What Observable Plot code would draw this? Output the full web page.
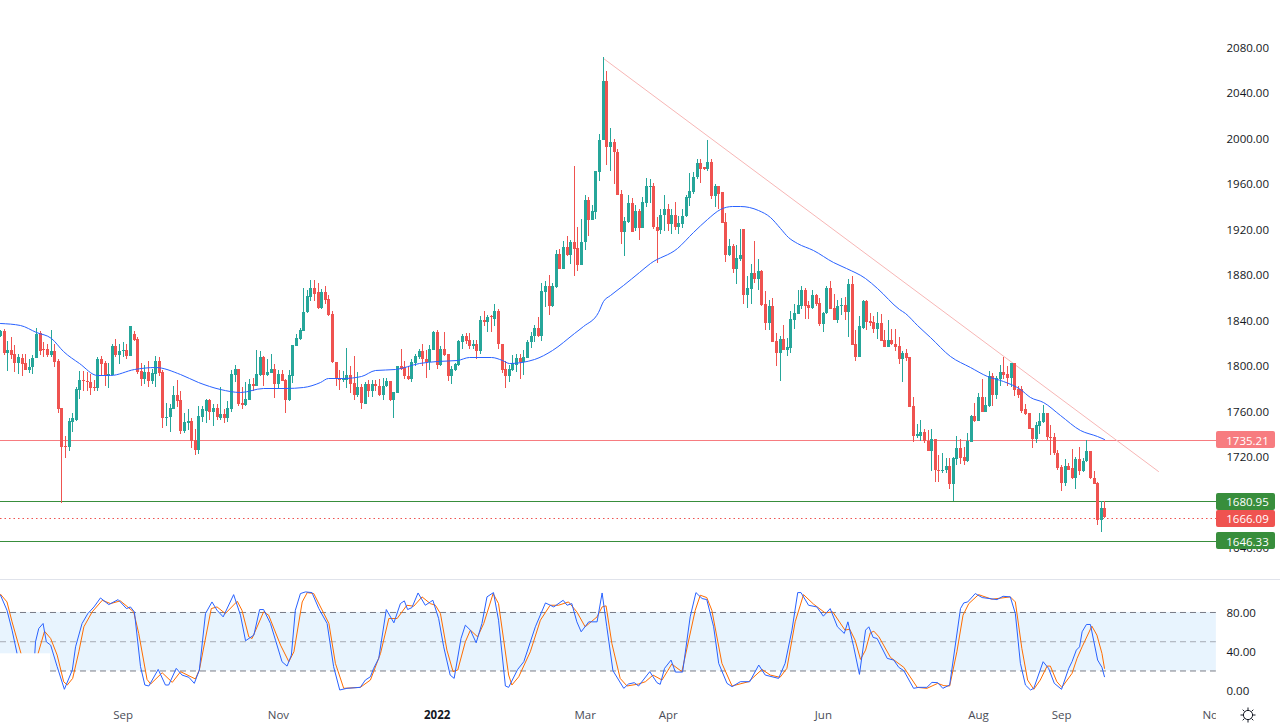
<!DOCTYPE html>
<html><head><meta charset="utf-8">
<script src="https://cdn.jsdelivr.net/npm/d3@7"></script>
<script src="https://cdn.jsdelivr.net/npm/@observablehq/plot@0.6"></script>
<style>
html,body{margin:0;padding:0;background:#fff;overflow:hidden}
#wrap{position:relative;width:1280px;height:728px;font-family:"Open Sans",sans-serif}
#top,#bot,#gear{position:absolute;left:0}
#top{top:0}#bot{top:580px}
#sep{position:absolute;left:0;top:579px;width:1280px;height:1px;background:#e0e3eb}
#gear{left:1240px;top:707px}
svg{display:block}
</style></head><body>
<div id="wrap"><div id="top"></div><div id="sep"></div><div id="bot"></div>
<svg id="gear" width="16" height="16" viewBox="0 0 16 16"><circle cx="8" cy="8" r="4.6" fill="none" stroke="#131722"/><path d="M8 .5V3M8 13v2.5M.5 8H3M13 8h2.5M2.7 2.7l1.8 1.8M11.5 11.5l1.8 1.8M2.7 13.3l1.8-1.8M11.5 4.5l1.8-1.8" stroke="#131722" fill="none"/></svg>
</div>
<script>
const opens=[1826,1830,1811,1813,1810,1802,1806,1802,1796,1798,
1806,1828,1814,1814,1809,1812,1804,1762,1729,1728,
1750,1752,1778,1787,1786,1785,1781,1780,1805,1802,
1790,1791,1817,1809,1812,1813,1808,1827,1823,1795,
1788,1794,1786,1792,1804,1794,1753,1754,1761,1774,
1769,1742,1749,1751,1734,1725,1754,1760,1769,1759,
1762,1753,1757,1753,1761,1791,1797,1767,1765,1769,
1783,1782,1791,1807,1791,1793,1797,1783,1792,1787,
1769,1790,1817,1823,1830,1847,1860,1868,1864,1850,
1864,1858,1845,1803,1789,1787,1787,1791,1784,1774,
1781,1766,1783,1777,1783,1782,1774,1782,1786,1769,
1775,1799,1798,1790,1788,1802,1807,1812,1805,1803,
1813,1829,1800,1814,1810,1790,1796,1800,1820,1826,
1822,1817,1819,1812,1840,1838,1843,1841,1848,1819,
1797,1790,1796,1800,1806,1803,1806,1820,1826,1833,
1826,1864,1870,1852,1869,1898,1885,1904,1897,1908,
1903,1888,1908,1945,1928,1935,1970,1998,2050,1992,
1996,1988,1951,1917,1926,1943,1921,1936,1921,1943,
1957,1958,1922,1919,1932,1937,1924,1932,1922,1924,
1931,1947,1952,1966,1978,1974,1973,1979,1949,1958,
1952,1926,1897,1905,1885,1893,1920,1862,1867,1881,
1876,1883,1854,1837,1852,1821,1811,1823,1813,1815,
1840,1845,1852,1866,1853,1850,1862,1855,1836,1846,
1868,1850,1840,1852,1853,1847,1871,1819,1807,1833,
1856,1839,1838,1832,1837,1822,1816,1822,1819,1817,
1805,1811,1807,1764,1738,1738,1741,1733,1724,1735,
1708,1707,1708,1711,1695,1717,1727,1719,1716,1732,
1755,1751,1772,1759,1764,1790,1774,1788,1794,1792,
1789,1802,1779,1779,1761,1758,1745,1735,1746,1750,
1758,1737,1737,1723,1710,1696,1711,1709,1701,1717,
1707,1716,1724,1701,1696,1664,1674];
const highs=[1831,1832,1821,1825,1818,1810,1810,1810,1805,1809,
1833,1830,1820,1819,1831,1819,1805,1762,1738,1753,
1758,1781,1795,1795,1794,1792,1787,1807,1808,1804,
1802,1819,1823,1819,1820,1819,1834,1830,1825,1802,
1800,1804,1797,1808,1807,1796,1767,1766,1782,1787,
1777,1758,1761,1753,1744,1764,1764,1770,1770,1766,
1766,1781,1761,1768,1796,1800,1797,1781,1785,1788,
1789,1813,1812,1808,1805,1810,1801,1796,1796,1788,
1796,1818,1827,1833,1868,1866,1875,1875,1872,1867,
1870,1862,1848,1803,1796,1795,1815,1799,1808,1794,
1783,1785,1787,1787,1787,1788,1789,1789,1786,1776,
1799,1814,1804,1799,1805,1810,1814,1819,1813,1818,
1830,1831,1817,1829,1810,1799,1802,1822,1827,1828,
1828,1822,1822,1843,1848,1844,1844,1854,1849,1819,
1804,1800,1809,1810,1810,1813,1822,1829,1835,1842,
1872,1874,1879,1872,1901,1902,1909,1914,1910,1975,
1922,1929,1950,1948,1941,1971,2003,2071,2059,2009,
1999,1990,1954,1930,1950,1947,1941,1937,1948,1965,
1964,1960,1930,1937,1950,1942,1937,1944,1931,1937,
1950,1969,1970,1981,1981,1974,1998,1981,1959,1958,
1952,1934,1911,1907,1906,1920,1920,1878,1889,1909,
1893,1884,1865,1857,1859,1828,1826,1835,1824,1848,
1854,1866,1870,1868,1856,1866,1863,1859,1847,1870,
1874,1863,1857,1859,1860,1876,1878,1831,1843,1857,
1857,1846,1843,1847,1845,1831,1840,1832,1832,1825,
1812,1814,1807,1772,1748,1752,1744,1743,1744,1735,
1721,1723,1718,1718,1719,1738,1735,1728,1740,1756,
1767,1775,1788,1772,1795,1793,1790,1800,1807,1799,
1802,1802,1782,1782,1766,1758,1745,1750,1758,1765,
1758,1747,1740,1725,1712,1717,1714,1726,1719,1728,
1718,1734,1724,1707,1697,1680,1680];
const lows=[1825,1809,1795,1805,1794,1792,1790,1796,1793,1792,
1806,1809,1807,1807,1807,1798,1758,1679,1718,1724,
1741,1751,1770,1777,1777,1774,1777,1777,1791,1782,
1780,1791,1807,1801,1807,1805,1808,1821,1792,1782,
1783,1781,1783,1781,1790,1745,1746,1741,1761,1763,
1739,1740,1743,1727,1721,1722,1750,1749,1752,1746,
1752,1752,1749,1750,1759,1785,1764,1761,1764,1769,
1777,1782,1790,1782,1790,1793,1771,1779,1786,1758,
1768,1784,1817,1822,1830,1846,1856,1856,1849,1849,
1854,1843,1802,1782,1778,1785,1780,1775,1769,1772,
1761,1766,1772,1772,1777,1773,1769,1781,1768,1753,
1775,1796,1788,1787,1785,1799,1805,1799,1789,1796,
1813,1797,1799,1808,1786,1783,1795,1799,1814,1819,
1814,1814,1805,1810,1834,1829,1829,1834,1814,1793,
1780,1785,1795,1794,1788,1791,1806,1815,1820,1825,
1821,1851,1844,1851,1868,1885,1885,1896,1889,1878,
1883,1888,1901,1914,1928,1929,1962,1998,1976,1971,
1959,1950,1907,1896,1925,1917,1918,1910,1921,1939,
1943,1920,1890,1915,1918,1918,1915,1919,1915,1921,
1930,1940,1951,1964,1960,1972,1971,1946,1939,1937,
1925,1891,1896,1881,1871,1892,1854,1850,1854,1872,
1866,1852,1831,1831,1820,1799,1786,1813,1808,1811,
1832,1845,1849,1841,1841,1849,1852,1834,1829,1845,
1849,1840,1837,1844,1840,1825,1818,1804,1807,1832,
1831,1834,1828,1823,1821,1816,1816,1818,1812,1801,
1785,1804,1763,1732,1736,1733,1731,1724,1707,1697,
1697,1705,1705,1691,1680,1712,1713,1712,1715,1732,
1750,1751,1759,1759,1763,1764,1770,1782,1788,1782,
1781,1773,1771,1758,1756,1744,1727,1731,1739,1749,
1734,1721,1721,1708,1689,1694,1708,1700,1691,1703,
1706,1715,1700,1695,1659,1653,1665];
const closes=[1830,1811,1813,1809,1802,1807,1801,1796,1798,1806,
1827,1812,1813,1809,1812,1803,1761,1728,1728,1751,
1753,1779,1787,1786,1785,1780,1780,1805,1801,1790,
1792,1817,1809,1812,1813,1808,1834,1822,1794,1788,
1794,1786,1793,1804,1793,1753,1754,1762,1774,1768,
1742,1750,1751,1733,1725,1755,1761,1769,1759,1762,
1754,1757,1753,1762,1792,1797,1766,1765,1770,1783,
1782,1792,1807,1791,1794,1797,1783,1792,1786,1769,
1791,1818,1824,1831,1847,1861,1868,1863,1850,1864,
1857,1844,1803,1788,1787,1788,1791,1783,1774,1781,
1767,1783,1777,1783,1782,1774,1782,1786,1769,1776,
1799,1797,1790,1788,1803,1808,1812,1805,1803,1814,
1829,1800,1814,1809,1790,1797,1801,1821,1826,1821,
1817,1819,1812,1840,1838,1842,1842,1848,1819,1796,
1790,1797,1802,1806,1803,1807,1820,1826,1833,1826,
1865,1870,1852,1870,1898,1885,1904,1897,1908,1902,
1888,1908,1945,1928,1936,1971,1998,2050,1992,1996,
1988,1950,1917,1927,1943,1917,1936,1921,1944,1958,
1958,1922,1918,1932,1937,1924,1932,1922,1925,1931,
1948,1953,1966,1978,1973,1973,1979,1949,1958,1951,
1925,1897,1905,1885,1894,1897,1862,1868,1881,1876,
1883,1853,1837,1852,1820,1811,1823,1813,1816,1841,
1846,1853,1866,1852,1850,1862,1854,1836,1846,1868,
1849,1840,1852,1853,1847,1871,1818,1807,1834,1856,
1838,1837,1832,1837,1821,1816,1822,1819,1816,1805,
1811,1806,1763,1738,1739,1741,1733,1724,1735,1708,
1707,1708,1711,1695,1718,1727,1718,1716,1733,1755,
1751,1772,1759,1765,1790,1774,1789,1794,1791,1789,
1802,1778,1774,1760,1757,1744,1735,1747,1751,1758,
1737,1736,1723,1709,1696,1711,1708,1701,1717,1707,
1716,1724,1701,1695,1664,1674,1666];

const maIdx=[0,5.5,10,14,17.5,22,27,30.5,37,43,50,55,61,66.5,73,79,84,88.6,91,95,100,104,109.5,116,121,126.5,130,136,139,141,148,153,159,161.6,165.8,167,169,172.7,177,180,187.5,192,195.8,199.5,202.7,205,210,213.3,216,218.4,220.7,225.3,230.9,234.5,239.7,243,249,250.8,254,257.7,263.2,268.8,273.4,278,282.6,285.4,289,293.7,299.3,303.9,306];
const maVal=[1837.4,1835.4,1829.5,1823.7,1812,1801.6,1791.4,1791.4,1797,1798,1792,1785,1779,1776.4,1780,1780,1781,1785.5,1789,1788.3,1790.7,1795.4,1796.5,1801.5,1803.9,1804.5,1807.4,1806.8,1804.5,1801.5,1805.3,1813,1828,1834,1847,1856,1862,1870.6,1882,1889.6,1902.8,1917.5,1929,1937.4,1940,1940,1936.6,1930.7,1920.4,1913,1907.8,1901.4,1891,1885.2,1877,1867.6,1849,1845.6,1835.3,1825,1808,1798.6,1790.4,1786,1778.7,1772,1767.8,1756,1742.9,1737.6,1735];

const kIdx=[0,1.8,3.2,4.6,6.9,9.5,9.7,10.6,11.8,12.7,13.9,15.7,17.7,19.9,20.8,22.6,24.2,25.9,27.7,30,32.6,34.9,36,37.1,38.8,40,41.1,43.7,45.7,46.6,48.7,50.3,52.2,53.7,55.1,56.8,58.6,60,61.7,64.6,66.5,67.9,70.2,71.8,72.9,74.8,76.2,78,79.4,80.6,81.7,83.1,84.5,86.3,88.2,90.5,92.3,94,96,99.7,101.1,102.5,103.4,104.8,106.9,109,110.8,111.9,112.8,114,115.7,117.7,119.1,119.8,121.4,122.8,124.6,125.7,127.6,128.8,130.2,131.8,133.4,134.8,136.6,138,139.9,140.8,143.3,145,148.2,151,153.3,155.9,157,158.3,159.7,160.9,163,165.3,166.7,168,169.7,172.7,174,175.6,176.8,179.9,181.9,182.8,184,185.8,187,189,191.1,192.7,194.4,195.7,197.6,199,201.3,202.7,205,207.6,210.1,211.9,215.6,217.4,219.3,220.9,221.8,223.9,226.2,228,229.9,231.9,233.8,234.8,236.4,238,239.7,240.6,241.8,242.9,245.7,247.5,248.9,250.3,253,254.4,256.7,258.1,259.7,261.1,263,266,266.9,268,270.1,272,276.1,277.8,279.8,281.2,282.6,284,285.4,286.3,288.9,290.4,292,294,296,296.9,298.1,299,299.7,300.9,302,304,305.2,305.9];
const kVal=[97.7,82.3,61.9,37.7,10.7,37.7,49.9,63.6,68.7,49.9,46.5,24.4,1.2,21,44.8,68.7,78.9,85.7,94.9,88.1,93.2,84,85.7,80.6,24.4,5.6,4.6,21.6,5.6,5.6,22.7,15.8,13.5,7.3,21,78.9,90.8,82.3,75.5,98.3,77.2,51,56.8,83,83,68.7,51.6,29.5,25,36.3,82.3,99.4,101.1,100.4,84,68.7,24.4,0.5,2.2,3.2,10.7,14.1,22.7,32.9,83,69.4,89.1,91.9,83,85,100,87.4,90.8,92.5,73.8,44.8,15.8,12.4,53.3,67,61.9,48.9,68.7,96,100.4,72.1,4.6,3.2,21.6,29.5,65.3,89.8,85.7,92.5,87.4,89.1,70.4,60.2,70.4,70.4,100,65.3,20.3,2.2,6.6,8,4.6,19.3,8,6.3,22.7,31.2,18.9,18.9,75.5,100.4,94.3,93.2,65.3,27.8,7.3,3.9,9,9,26.1,15.8,12.4,27.8,61.9,100.4,100.4,87.4,85.7,76.2,84,65.3,58.5,70.4,44.8,16.5,61.9,65.3,54.4,53.3,32.9,31.2,23.7,20.3,2.2,3.2,3.2,8.3,8,2.2,5.6,84,89.8,90.8,99.4,95.3,93.2,96.6,96,78.9,27.8,5.6,0.5,2.2,29.5,22.7,7.3,1.2,22.7,29.5,41.4,44.8,60.2,67.7,67.7,31.2,23.7,14.1];
const dIdx=[0,1.8,3.2,5.7,7.8,10.4,12.2,13.9,15.7,17.5,18.5,20,21.7,23.1,25.4,28.2,30.5,33.2,36.9,38.3,40.6,41.6,44.8,47.6,49.9,54,55.1,58.4,60,62.3,65.6,66.9,68.8,69.7,72.9,74.3,77.6,79.9,81.3,83.6,85,86.8,91,92.8,95.1,99.7,102.5,105.3,107.6,109.9,112.6,114.5,116.8,119.1,120.5,121.9,123.7,125.4,126.7,128.8,130.2,132.2,133.9,136.5,138,140.8,141.7,143.6,146.8,149.6,152.3,154.6,157.4,159.7,162,165.3,166.7,167.8,169.4,171.7,173.6,176.8,178.7,180.8,183.3,186,188.8,192.5,193.9,195.7,197.1,199.9,202.7,207.3,211,213.3,216,217.9,220.2,222.5,225.3,228.5,230.6,234,235.3,236.8,238.3,239.7,241,242,243.4,246.6,250.3,254,256.7,259.7,261.4,263,265,266.7,268.3,271,274.7,279.8,281.2,283,284.6,286.3,288.1,290,290.9,292.7,294.1,296.9,298.3,299.7,302.4,303.8,305.2,305.9];
const dVal=[98.7,90.8,70.4,37.7,7.3,37.7,60.8,53.3,36.3,9,5.6,12.4,39.7,65.3,80.6,92.5,89.1,91.9,80.6,58.5,11.4,6.6,18.2,8.3,19.3,11.8,21,84,85.7,78.9,91.5,82.3,55,53.3,80.6,77.2,46.5,29.5,39.7,90.8,100.4,99.4,68.7,27.8,2.2,3.2,10.7,38,73.8,73.8,87.4,86.4,96,89.1,87.4,78.9,41.4,19.3,21,49.9,61.9,55,68.7,99.4,89.1,15.8,5.6,14.1,39.7,72.1,87.4,87.4,90.8,80.6,65.3,75.5,85.7,86.8,48.2,12.4,4.6,6.6,9,15.8,10.7,27.1,19.3,82.3,97.7,95.3,82.3,27.8,4.6,9,21.6,15.8,13.5,22.7,70.4,98.3,88.5,79.6,80.6,61.9,62.9,51.6,31.9,41.4,59.1,60.8,55,33.9,23.7,3.2,2.2,7.3,4.9,4.6,39.7,77.2,89.1,98.3,93.6,96,90.8,43.1,10.7,1.2,10.7,25,25,9,3.2,17.5,32.9,44.8,66,56.8,38,22.7];

const priceTicks=[1640,1680,1720,1760,1800,1840,1880,1920,1960,2000,2040,2080];
const stochTicks=[0,40,80];
const stochLevels=[80,50,20];
const timeIdx=[34,77,121,162,185,228,271,294,336];
const timeLabels=["Sep","Nov","2022","Mar","Apr","Jun","Aug","Sep","Nov"];
const levelVals=[1735.21,1680.95,1666.09,1646.33];
const levelText=["1735.21","1680.95","1666.09","1646.33"];
const levelColor=["#f77c80","#388e3c","#ef5350","#388e3c"];
const trendIdx=[167,320.9];
const trendVal=[2071.5,1708];

const FONT='"Open Sans",sans-serif';
const AXIS_SIZE=11.5;
const readOffset=0.9, paneEnd=336.9, labelEnd=353.3, xMax=354.67;
const bars=opens.map((o,i)=>({i,o:o+readOffset,h:highs[i]+readOffset,l:lows[i]+readOffset,c:closes[i]+readOffset}));
const up=bars.filter(d=>d.c>=d.o), down=bars.filter(d=>d.c<d.o);
const ma=maIdx.map((x,k)=>({x,y:maVal[k]+readOffset}));
const trend=trendIdx.map((x,k)=>({x,y:trendVal[k]}));
const levels=levelVals.map((v,k)=>({v,t:levelText[k],c:levelColor[k]}));
const UP="#26a69a",DOWN="#ef5350";
const candle=(data,color)=>[
  Plot.ruleX(data,{x:"i",y1:"l",y2:"h",stroke:color,strokeWidth:1}),
  Plot.ruleX(data,{x:"i",y1:"o",y2:"c",stroke:color,strokeWidth:3})
];
const topPlot=Plot.plot({
  width:1280,height:580,marginTop:0,marginBottom:0,marginLeft:0,marginRight:64,
  style:{background:"transparent",fontFamily:FONT,fontSize:"12px"},
  x:{domain:[0,xMax],range:[0,1280],axis:null,round:true},
  y:{domain:[1630,2110],range:[559.24,13.96],round:true},
  marks:[
    Plot.axisY({anchor:"right",ticks:priceTicks,tickSize:0,tickPadding:10,tickFormat:d=>d.toFixed(2),label:null,fill:"#131722",fontSize:AXIS_SIZE}),
    Plot.ruleY(levels.filter(d=>d.t!=="1666.09"),{y:"v",x1:()=>0,x2:()=>paneEnd,stroke:"c",strokeWidth:1}),
    Plot.ruleY(levels.filter(d=>d.t==="1666.09"),{y:"v",x1:()=>0,x2:()=>paneEnd,stroke:"c",strokeWidth:1,strokeDasharray:"1.5,3"}),
    Plot.line(trend,{x:"x",y:"y",stroke:"#f7b6b5",strokeWidth:1}),
    ...candle(down,DOWN),...candle(up,UP),
    Plot.line(ma,{x:"x",y:"y",stroke:"#2962ff",strokeWidth:1,curve:"monotone-x"}),
    Plot.rect(levels,{x1:()=>paneEnd,x2:()=>labelEnd,y1:d=>d.v-7.4,y2:d=>d.v+7.4,fill:"c",rx:2}),
    Plot.text(levels,{x:()=>(paneEnd+labelEnd)/2+0.4,y:"v",text:"t",fill:"#fff",fontSize:AXIS_SIZE,dy:0.5})
  ],
  color:{type:"identity"}
});
document.getElementById("top").appendChild(topPlot);

const kLine=kIdx.map((x,i)=>({x,y:kVal[i]}));
const dLine=dIdx.map((x,i)=>({x,y:dVal[i]}));
const botPlot=Plot.plot({
  width:1280,height:148,marginTop:0,marginBottom:33,marginLeft:0,marginRight:64,
  style:{background:"transparent",fontFamily:FONT,fontSize:"12px"},
  x:{domain:[0,xMax],range:[0,1280],axis:null},
  y:{domain:[-39,112.8],range:[148,0]},
  marks:[
    Plot.axisX({anchor:"bottom",ticks:timeIdx,tickSize:0,tickPadding:15,tickFormat:d=>timeLabels[timeIdx.indexOf(d)],label:null,fill:"#4a4d57",fontSize:AXIS_SIZE}),
    Plot.rect([0],{x1:()=>paneEnd,x2:()=>xMax,y1:()=>-39,y2:()=>-12,fill:"#fff"}),
    Plot.axisY({anchor:"right",ticks:stochTicks,tickSize:0,tickPadding:10,tickFormat:d=>d.toFixed(2),label:null,fill:"#131722",fontSize:AXIS_SIZE,dy:0.6}),
    Plot.rect([0],{x1:()=>0,x2:()=>paneEnd,y1:()=>20,y2:()=>80,fill:"#e8f4fe"}),
    Plot.ruleY(stochLevels.filter(d=>d!==50),{y:d=>d,x1:()=>0,x2:()=>paneEnd,stroke:"#787b86",strokeWidth:1,strokeDasharray:"6,4"}),
    Plot.ruleY([50],{y:d=>d,x1:()=>0,x2:()=>paneEnd,stroke:"#787b86",strokeOpacity:0.6,strokeWidth:1,strokeDasharray:"6,4"}),
    Plot.line(dLine,{x:"x",y:"y",stroke:"#ff6d00",strokeWidth:1}),
    Plot.line(kLine,{x:"x",y:"y",stroke:"#2962ff",strokeWidth:1}),
    Plot.rect([0],{x1:()=>0,x2:()=>13.85,y1:()=>-39,y2:()=>37.6,fill:"#fff"})
  ]
});
d3.select(botPlot).selectAll("text").filter(function(){return this.textContent==="2022"}).attr("font-weight","bold").attr("fill","#131722");
document.getElementById("bot").appendChild(botPlot);
</script></body></html>
